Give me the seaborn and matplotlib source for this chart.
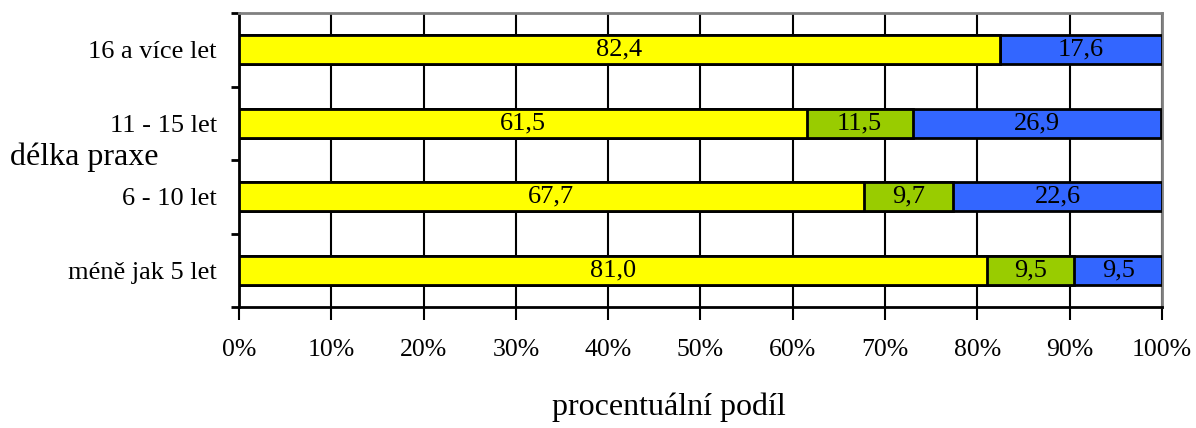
import matplotlib
matplotlib.use("Agg")
import matplotlib.pyplot as plt
from matplotlib.ticker import FixedLocator, PercentFormatter
import pandas as pd
import seaborn as sns

# Length of practice groups (top to bottom) and answer shares in percent
categories = ["16 a více let", "11 - 15 let", "6 - 10 let", "méně jak 5 let"]
share_yes = [82.4, 61.5, 67.7, 81.0]
share_partly = [0.0, 11.5, 9.7, 9.5]
share_no = [17.6, 26.9, 22.6, 9.5]
x_ticks = [0, 10, 20, 30, 40, 50, 60, 70, 80, 90, 100]

colors = ["#FFFF00", "#99CC00", "#3366FF"]

sns.set_theme(style="white")
plt.rcParams["font.family"] = ["Liberation Serif", "DejaVu Serif"]
plt.rcParams["text.color"] = "black"
plt.rcParams["xtick.color"] = "black"
plt.rcParams["ytick.color"] = "black"
plt.rcParams["axes.labelcolor"] = "black"

df = pd.DataFrame({
    "group": categories,
    "yes": share_yes,
    "partly": share_partly,
    "no": share_no,
})
df["cum1"] = df["yes"]
df["cum2"] = df["yes"] + df["partly"]
df["cum3"] = df["yes"] + df["partly"] + df["no"]

fig = plt.figure(figsize=(11.96, 4.28), dpi=100)
ax = fig.add_axes([0.1998, 0.2827, 0.9716 - 0.1998, 0.9696 - 0.2827])

# Stacked horizontal bars: draw cumulative totals from longest to shortest
for col, color in zip(["cum3", "cum2", "cum1"], colors[::-1]):
    sns.barplot(data=df, x=col, y="group", order=categories, orient="h",
                color=color, saturation=1, width=0.4, edgecolor="black",
                linewidth=2, ax=ax, zorder=3)

# Value labels in the middle of each segment
for i, row in df.iterrows():
    starts = [0, row["cum1"], row["cum2"]]
    for start, val in zip(starts, [row["yes"], row["partly"], row["no"]]):
        if val > 0:
            ax.text(start + val / 2, i, f"{val:.1f}".replace(".", ","),
                    ha="center", va="center", fontsize=19, color="black",
                    zorder=5)

ax.set_xlim(0, 100)
ax.set_ylim(3.5, -0.5)
ax.xaxis.set_major_locator(FixedLocator(x_ticks))
ax.xaxis.set_major_formatter(PercentFormatter(decimals=0))
ax.grid(axis="x", color="black", linewidth=1.5, zorder=0)
ax.grid(axis="y", visible=False)
ax.set_axisbelow(True)

ax.set_xlabel("")
ax.set_ylabel("")

ax.tick_params(axis="x", which="major", direction="out", length=9, width=1.5,
               color="black", labelsize=18.5, pad=14, bottom=True)
ax.tick_params(axis="y", which="major", length=0, labelsize=19, pad=16)
ax.yaxis.set_minor_locator(FixedLocator([-0.5, 0.5, 1.5, 2.5, 3.5]))
ax.tick_params(axis="y", which="minor", direction="out", length=6, width=2,
               color="black", left=True)

for side in ["left", "bottom"]:
    ax.spines[side].set_color("black")
    ax.spines[side].set_linewidth(2)
for side in ["top", "right"]:
    ax.spines[side].set_color("#808080")
    ax.spines[side].set_linewidth(2)

fig.text(0.008, 0.633, "délka praxe", fontsize=23, ha="left", va="center")
fig.text(0.559, 0.030, "procentuální podíl", fontsize=23, ha="center",
         va="baseline")

fig.savefig("out.png", dpi=100)
